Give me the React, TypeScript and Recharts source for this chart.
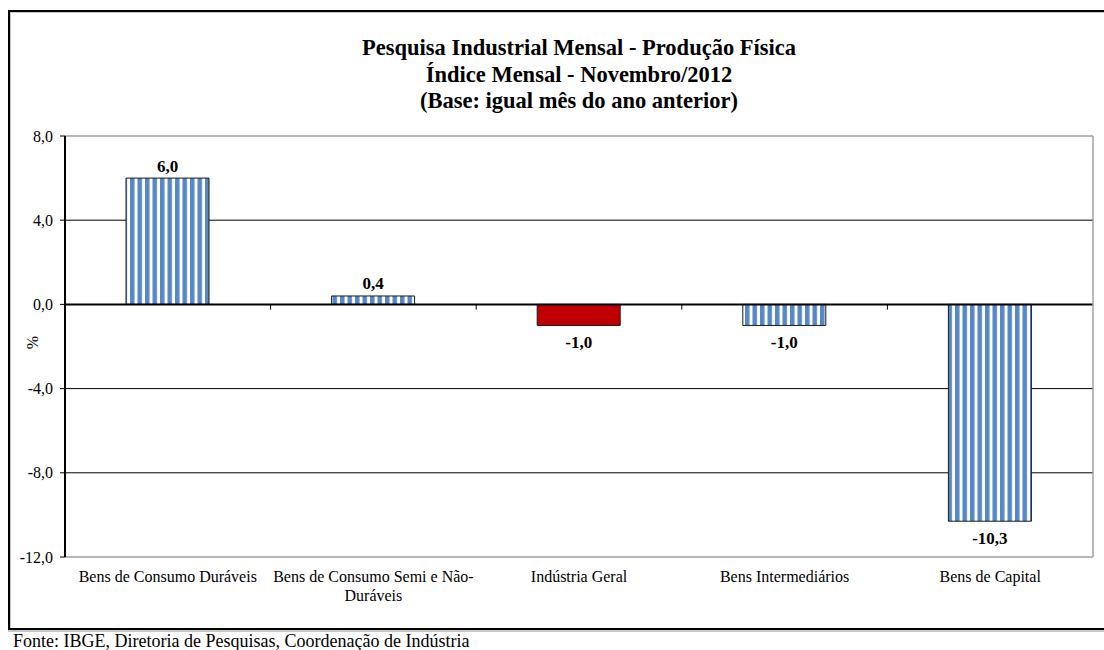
import React from "react";
import {
  BarChart,
  Bar,
  XAxis,
  YAxis,
  CartesianGrid,
  ReferenceLine,
  Cell,
  LabelList,
} from "recharts";

const categories = [
  "Bens de Consumo Duráveis",
  "Bens de Consumo Semi e Não-Duráveis",
  "Indústria Geral",
  "Bens Intermediários",
  "Bens de Capital",
];
const values = [6.0, 0.4, -1.0, -1.0, -10.3];
const highlighted = "Indústria Geral";
const yTicks = [8, 4, 0, -4, -8, -12];
const gridValues = [4, -4, -8];
const titleLines = [
  "Pesquisa Industrial Mensal - Produção Física",
  "Índice Mensal - Novembro/2012",
  "(Base: igual mês do ano anterior)",
];
const source = "Fonte: IBGE, Diretoria de Pesquisas, Coordenação de Indústria";

const data = categories.map((name, i) => ({ name, value: values[i] }));

const font = "'Liberation Serif', 'Times New Roman', serif";
const blue = "#5687c6";
const red = "#c00000";

const fmt = (v: number) => v.toFixed(1).replace(".", ",");

// greedy wrap, breaking after spaces or hyphens
function wrap(text: string, max: number) {
  const parts = text.match(/[^\s-]+-?\s*/g) || [text];
  const lines: string[] = [];
  let cur = "";
  for (const p of parts) {
    if ((cur + p).trimEnd().length > max && cur) {
      lines.push(cur.trimEnd());
      cur = p;
    } else cur += p;
  }
  if (cur) lines.push(cur.trimEnd());
  return lines;
}

function CategoryTick(props: any) {
  const { x, y, payload } = props;
  const lines = wrap(payload.value, 27);
  return (
    <text x={x} y={y} textAnchor="middle" fontSize={16} fill="#000" fontFamily={font}>
      {lines.map((l, i) => (
        <tspan key={i} x={x} dy={i === 0 ? 17 : 19}>
          {l}
        </tspan>
      ))}
    </text>
  );
}

function ValueLabel(props: any) {
  const { x, y, width, height, value } = props;
  const cx = x + width / 2;
  const neg = value < 0;
  const end = neg ? Math.max(y, y + height) : Math.min(y, y + height);
  return (
    <text
      x={cx}
      y={neg ? end + 17 : end - 12}
      textAnchor="middle"
      dominantBaseline="central"
      fontSize={17}
      fontWeight="bold"
      fill="#000"
      fontFamily={font}
    >
      {fmt(value)}
    </text>
  );
}

export default function App() {
  return (
    <div>
      <div
        style={{
          position: "absolute",
          left: 8,
          top: 10,
          width: 1096,
          height: 616,
          borderTop: "2px solid #000",
          borderLeft: "2px solid #000",
          borderBottom: "2px solid #000",
          fontFamily: font,
        }}
      >
        <div
          style={{
            position: "absolute",
            left: 0,
            top: 0,
            right: 0,
            bottom: 0,
            borderTop: "1px solid #c8c8c8",
            borderLeft: "1px solid #c8c8c8",
          }}
        />
        <BarChart
          width={1094}
          height={616}
          data={data}
          margin={{ top: 124, right: 10, left: 10, bottom: 31 }}
          barSize={83}
          style={{ position: "absolute", left: 0, top: 0 }}
        >
          <defs>
            <pattern id="stripes" width="7.5" height="10" patternUnits="userSpaceOnUse">
              <rect width="7.5" height="10" fill="#fff" />
              <rect width="4.5" height="10" fill={blue} />
            </pattern>
          </defs>
          <CartesianGrid
            vertical={false}
            horizontalValues={gridValues}
            stroke="#000"
            strokeWidth={1}
          />
          <XAxis
            dataKey="name"
            axisLine={false}
            tickLine={false}
            height={40}
            interval={0}
            tick={<CategoryTick />}
          />
          <YAxis
            domain={[-12, 8]}
            ticks={yTicks}
            width={45}
            interval={0}
            tickFormatter={fmt}
            tick={{ fontSize: 16, fill: "#000", fontFamily: font, dx: -5 }}
            tickSize={5}
            tickLine={{ stroke: "#000" }}
            axisLine={{ stroke: "#000", strokeWidth: 2 }}
            label={{
              value: "%",
              angle: -90,
              position: "center",
              dx: -10,
              dy: -4,
              fontSize: 16,
              fill: "#000",
              fontFamily: font,
            }}
          />
          <YAxis
            yAxisId="r"
            orientation="right"
            domain={[-12, 8]}
            width={1}
            tick={false}
            tickLine={false}
            axisLine={{ stroke: "#a0a0a0", strokeWidth: 1.5 }}
          />
          <ReferenceLine y={8} stroke="#a0a0a0" strokeWidth={1.5} />
          <ReferenceLine y={-12} stroke="#a0a0a0" strokeWidth={1.5} />
          <Bar dataKey="value" stroke="#1a1a1a" strokeWidth={1} isAnimationActive={false}>
            {data.map((d) => (
              <Cell key={d.name} fill={d.name === highlighted ? red : "url(#stripes)"} />
            ))}
            <LabelList dataKey="value" content={<ValueLabel />} />
          </Bar>
          <ReferenceLine y={0} stroke="#000" strokeWidth={2} />
          {categories.slice(1).map((c) => (
            <ReferenceLine
              key={c}
              position="start"
              segment={[
                { x: c, y: 0 },
                { x: c, y: -0.25 },
              ]}
              stroke="#000"
              strokeWidth={1}
            />
          ))}
        </BarChart>
        <div
          style={{
            position: "absolute",
            left: 269,
            top: 23,
            width: 600,
            textAlign: "center",
            fontSize: 22.5,
            fontWeight: "bold",
            lineHeight: "26.5px",
            color: "#000",
          }}
        >
          {titleLines.map((t) => (
            <div key={t}>{t}</div>
          ))}
        </div>
      </div>
      <div
        style={{
          position: "absolute",
          left: 8,
          top: 630,
          width: 1096,
          borderTop: "2px solid #c8c8c8",
        }}
      />
      <div
        style={{
          position: "absolute",
          left: 13,
          top: 631,
          fontSize: 18,
          lineHeight: "20px",
          fontFamily: font,
          color: "#000",
          whiteSpace: "nowrap",
        }}
      >
        {source}
      </div>
    </div>
  );
}
